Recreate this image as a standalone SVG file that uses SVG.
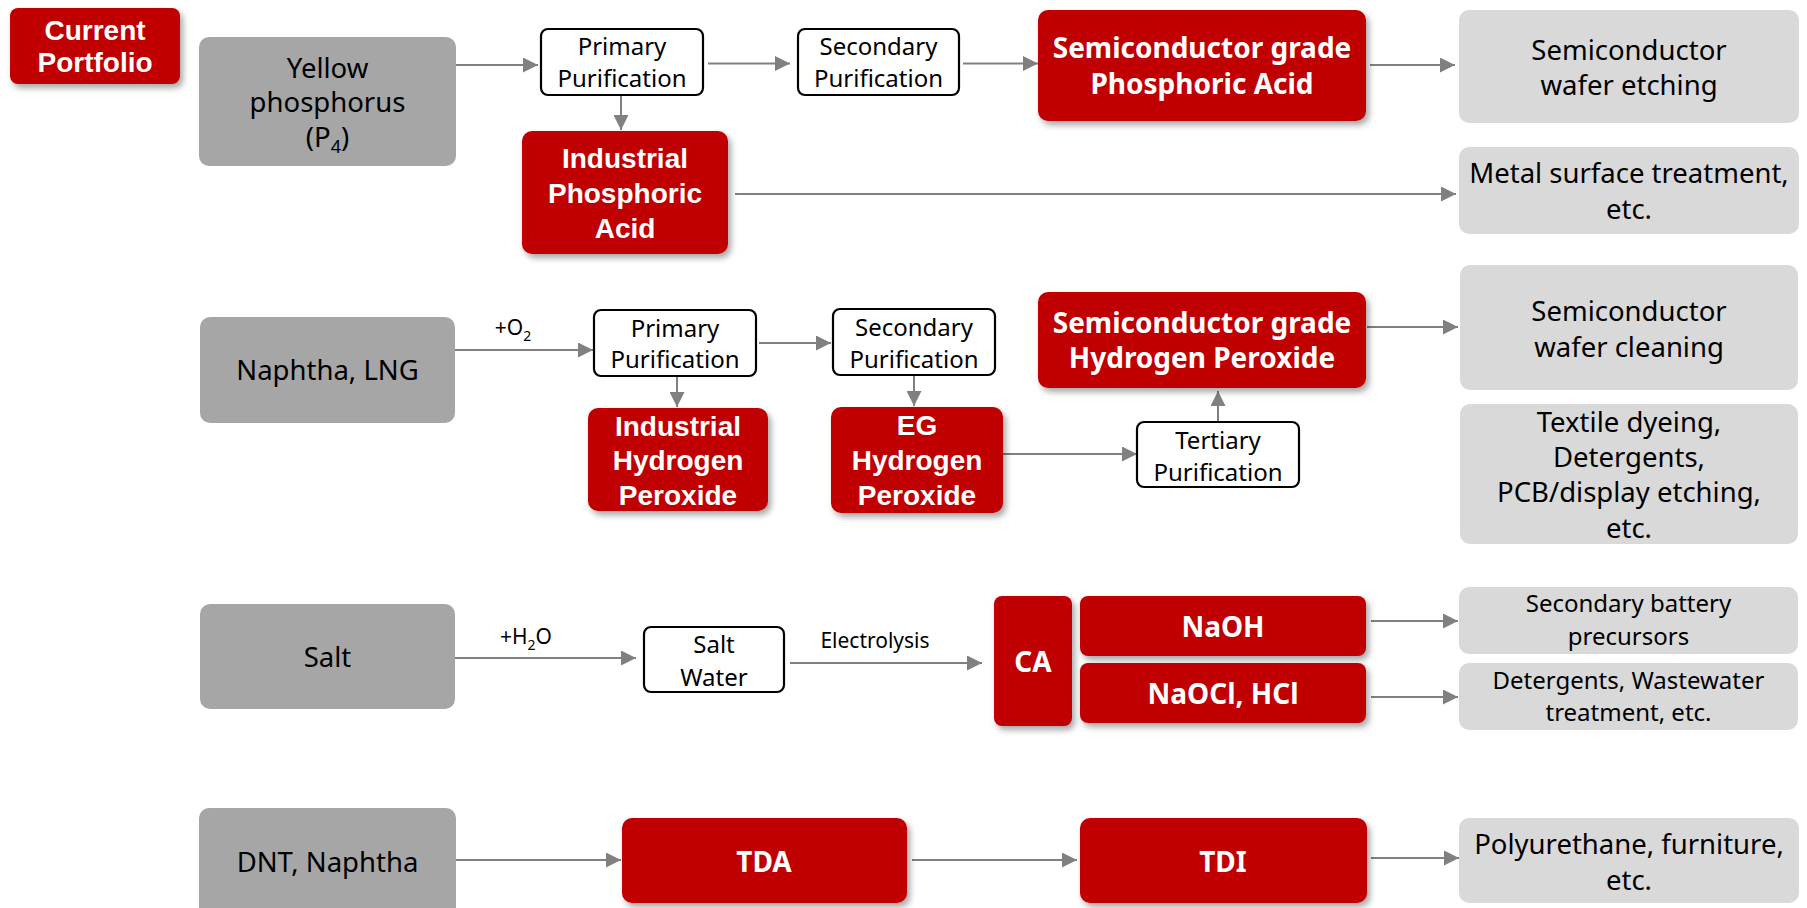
<svg xmlns="http://www.w3.org/2000/svg" width="1807" height="908" viewBox="0 0 1807 908">
<defs>
<filter id="sh" x="-10%" y="-10%" width="125%" height="135%">
<feDropShadow dx="3" dy="4" stdDeviation="3" flood-color="#000" flood-opacity="0.35"/>
</filter>
<marker id="ah" markerUnits="userSpaceOnUse" markerWidth="16" markerHeight="15" refX="15" refY="7.5" orient="auto">
<path d="M0,0 L15,7.5 L0,15 z" fill="#808080"/>
</marker>
</defs>
<style>
.red{fill:#C00000;filter:url(#sh)}
.dk{fill:#A6A6A6}
.lt{fill:#D9D9D9}
.wb{fill:#fff;stroke:#000;stroke-width:2.2}
.t{font-family:"Noto Sans","DejaVu Sans",sans-serif;fill:#000;text-anchor:middle}
.g{font-size:27.5px}
.s{font-size:24px}
.l{font-size:21px}
.ra{font-family:"Liberation Sans",Arial,sans-serif;font-weight:bold;fill:#fff;text-anchor:middle;font-size:28px}
.rm{font-family:"Noto Sans","DejaVu Sans",sans-serif;font-weight:bold;fill:#fff;text-anchor:middle;font-size:28px}
.c{stroke:#808080;stroke-width:2;fill:none;marker-end:url(#ah)}
</style>

<g id="connectors">
<line class="c" x1="456" y1="65" x2="538" y2="65"/>
<line class="c" x1="708" y1="63.5" x2="790" y2="63.5"/>
<line class="c" x1="963" y1="63.5" x2="1038" y2="63.5"/>
<line class="c" x1="1370" y1="65" x2="1455" y2="65"/>
<line class="c" x1="621" y1="95" x2="621" y2="130"/>
<line class="c" x1="735" y1="194" x2="1456" y2="194"/>

<line class="c" x1="455" y1="350" x2="593" y2="350"/>
<line class="c" x1="759" y1="343" x2="831" y2="343"/>
<line class="c" x1="677" y1="376" x2="677" y2="407"/>
<line class="c" x1="914" y1="375" x2="914" y2="406"/>
<line class="c" x1="1003" y1="454" x2="1137" y2="454"/>
<line class="c" x1="1218" y1="422" x2="1218" y2="391"/>
<line class="c" x1="1367" y1="327" x2="1458" y2="327"/>

<line class="c" x1="455" y1="658" x2="636" y2="658"/>
<line class="c" x1="790" y1="663" x2="982" y2="663"/>
<line class="c" x1="1371" y1="621" x2="1458" y2="621"/>
<line class="c" x1="1371" y1="697" x2="1458" y2="697"/>

<line class="c" x1="456" y1="860" x2="621" y2="860"/>
<line class="c" x1="912" y1="860" x2="1077" y2="860"/>
<line class="c" x1="1371" y1="858" x2="1459" y2="858"/>

<text class="t l" x="513" y="335">+O<tspan font-size="14" dy="6">2</tspan></text>
<text class="t l" x="526" y="644">+H<tspan font-size="14" dy="6">2</tspan><tspan dy="-6">O</tspan></text>
<text class="t l" x="875" y="648">Electrolysis</text>
</g>

<g id="current-portfolio">
<rect class="red" x="10" y="8" width="170" height="76" rx="8"/>
<text class="ra" x="95" y="40" font-size="26">Current</text>
<text class="ra" x="95" y="72" font-size="26">Portfolio</text>
</g>

<g id="yellow-phosphorus">
<rect class="dk" x="199" y="37" width="257" height="129" rx="10"/>
<text class="t g" x="327.5" y="78">Yellow</text>
<text class="t g" x="327.5" y="112">phosphorus</text>
<text class="t g" x="327.5" y="147">(P<tspan font-size="18" dy="6">4</tspan><tspan dy="-6">)</tspan></text>
</g>

<g id="primary-purification-1">
<rect class="wb" x="541" y="29" width="162" height="66" rx="7"/>
<text class="t s" x="622" y="55">Primary</text>
<text class="t s" x="622" y="87">Purification</text>
</g>

<g id="secondary-purification-1">
<rect class="wb" x="798" y="29" width="161" height="66" rx="7"/>
<text class="t s" x="878.5" y="55">Secondary</text>
<text class="t s" x="878.5" y="87">Purification</text>
</g>

<g id="semi-phosphoric-acid">
<rect class="red" x="1038" y="10" width="328" height="111" rx="10"/>
<text class="rm" x="1202" y="58">Semiconductor grade</text>
<text class="rm" x="1202" y="94">Phosphoric Acid</text>
</g>

<g id="wafer-etching">
<rect class="lt" x="1459" y="10" width="340" height="113" rx="10"/>
<text class="t g" x="1629" y="60">Semiconductor</text>
<text class="t g" x="1629" y="95">wafer etching</text>
</g>

<g id="industrial-phosphoric-acid">
<rect class="red" x="522" y="131" width="206" height="123" rx="10"/>
<text class="ra" x="625" y="168">Industrial</text>
<text class="ra" x="625" y="203">Phosphoric</text>
<text class="ra" x="625" y="238">Acid</text>
</g>

<g id="metal-surface">
<rect class="lt" x="1459" y="147" width="340" height="87" rx="10"/>
<text class="t g" x="1629" y="183">Metal surface treatment,</text>
<text class="t g" x="1629" y="219">etc.</text>
</g>

<g id="naphtha-lng">
<rect class="dk" x="200" y="317" width="255" height="106" rx="10"/>
<text class="t g" x="327.5" y="380">Naphtha, LNG</text>
</g>

<g id="primary-purification-2">
<rect class="wb" x="594" y="310" width="162" height="66" rx="7"/>
<text class="t s" x="675" y="337">Primary</text>
<text class="t s" x="675" y="368">Purification</text>
</g>

<g id="secondary-purification-2">
<rect class="wb" x="833" y="309" width="162" height="66" rx="7"/>
<text class="t s" x="914" y="336">Secondary</text>
<text class="t s" x="914" y="368">Purification</text>
</g>

<g id="industrial-hydrogen-peroxide">
<rect class="red" x="588" y="408" width="180" height="103" rx="10"/>
<text class="ra" x="678" y="436">Industrial</text>
<text class="ra" x="678" y="470">Hydrogen</text>
<text class="ra" x="678" y="505">Peroxide</text>
</g>

<g id="eg-hydrogen-peroxide">
<rect class="red" x="831" y="407" width="172" height="106" rx="10"/>
<text class="ra" x="917" y="435">EG</text>
<text class="ra" x="917" y="470">Hydrogen</text>
<text class="ra" x="917" y="505">Peroxide</text>
</g>

<g id="tertiary-purification">
<rect class="wb" x="1137" y="422" width="162" height="65" rx="7"/>
<text class="t s" x="1218" y="449">Tertiary</text>
<text class="t s" x="1218" y="481">Purification</text>
</g>

<g id="semi-hydrogen-peroxide">
<rect class="red" x="1038" y="292" width="328" height="96" rx="10"/>
<text class="rm" x="1202" y="333">Semiconductor grade</text>
<text class="rm" x="1202" y="368">Hydrogen Peroxide</text>
</g>

<g id="wafer-cleaning">
<rect class="lt" x="1460" y="265" width="338" height="125" rx="10"/>
<text class="t g" x="1629" y="321">Semiconductor</text>
<text class="t g" x="1629" y="357">wafer cleaning</text>
</g>

<g id="textile-dyeing">
<rect class="lt" x="1460" y="404" width="338" height="140" rx="10"/>
<text class="t g" x="1629" y="432">Textile dyeing,</text>
<text class="t g" x="1629" y="467">Detergents,</text>
<text class="t g" x="1629" y="502">PCB/display etching,</text>
<text class="t g" x="1629" y="538">etc.</text>
</g>

<g id="salt">
<rect class="dk" x="200" y="604" width="255" height="105" rx="10"/>
<text class="t g" x="327.5" y="667">Salt</text>
</g>

<g id="salt-water">
<rect class="wb" x="644" y="627" width="140" height="65" rx="7"/>
<text class="t s" x="714" y="653">Salt</text>
<text class="t s" x="714" y="686">Water</text>
</g>

<g id="ca">
<rect class="red" x="994" y="596" width="78" height="130" rx="8"/>
<text class="rm" x="1033" y="672">CA</text>
</g>

<g id="naoh">
<rect class="red" x="1080" y="596" width="286" height="60" rx="8"/>
<text class="rm" x="1223" y="637">NaOH</text>
</g>

<g id="naocl-hcl">
<rect class="red" x="1080" y="663" width="286" height="60" rx="8"/>
<text class="rm" x="1223" y="704">NaOCl, HCl</text>
</g>

<g id="battery-precursors">
<rect class="lt" x="1459" y="587" width="339" height="67" rx="10"/>
<text class="t s" x="1628.5" y="612">Secondary battery</text>
<text class="t s" x="1628.5" y="645">precursors</text>
</g>

<g id="detergents-wastewater">
<rect class="lt" x="1459" y="663" width="339" height="67" rx="10"/>
<text class="t s" x="1628.5" y="689">Detergents, Wastewater</text>
<text class="t s" x="1628.5" y="721">treatment, etc.</text>
</g>

<g id="dnt-naphtha">
<rect class="dk" x="199" y="808" width="257" height="115" rx="10"/>
<text class="t g" x="327.5" y="872">DNT, Naphtha</text>
</g>

<g id="tda">
<rect class="red" x="622" y="818" width="285" height="85" rx="10"/>
<text class="rm" x="764" y="872">TDA</text>
</g>

<g id="tdi">
<rect class="red" x="1080" y="818" width="287" height="85" rx="10"/>
<text class="rm" x="1223" y="872">TDI</text>
</g>

<g id="polyurethane">
<rect class="lt" x="1459" y="818" width="340" height="85" rx="10"/>
<text class="t g" x="1629" y="854">Polyurethane, furniture,</text>
<text class="t g" x="1629" y="890">etc.</text>
</g>
</svg>
